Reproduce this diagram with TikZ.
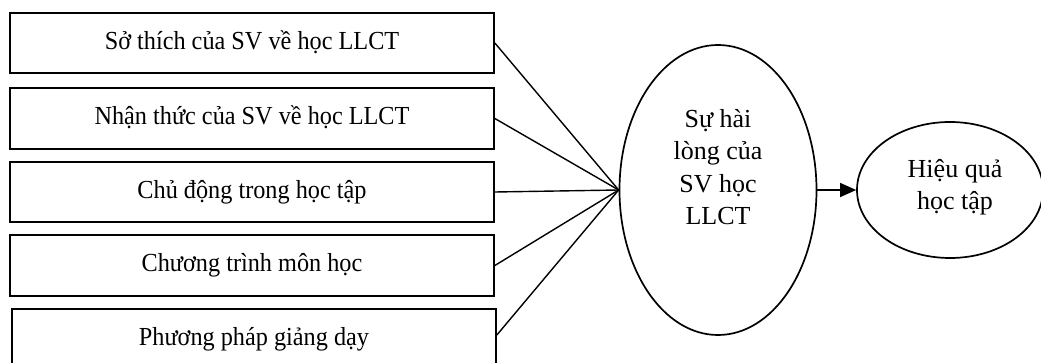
\documentclass[tikz,border=0pt]{standalone}
\usepackage{fontspec}
\setmainfont{Liberation Serif}
\newfontfamily\boxfont[FakeStretch=0.933]{Liberation Serif}
\usetikzlibrary{arrows.meta,shapes.geometric}
\begin{document}
\begin{tikzpicture}[x=1pt,y=-1pt,
  factor/.style={draw, line width=1.7pt, minimum width=484pt, inner sep=0pt,
    text height=19pt, text depth=6pt, font=\boxfont\fontsize{26}{31}\selectfont},
  oval/.style={draw, ellipse, line width=1.7pt, inner sep=0pt},
  label/.style={align=center, inner sep=0pt, font=\fontsize{26}{32.5}\selectfont},
  link/.style={line width=1.4pt}
]
\useasboundingbox (0,0) rectangle (1041,363);
\clip (0,0) rectangle (1041,363);
\node[factor, minimum height=60pt] (b1) at (252,43) {Sở thích của SV về học LLCT};
\node[factor, minimum height=61pt] (b2) at (252,118.5) {Nhận thức của SV về học LLCT};
\node[factor, minimum height=60pt] (b3) at (252,192) {Chủ động trong học tập};
\node[factor, minimum height=61pt] (b4) at (252,265.5) {Chương trình môn học};
\node[factor, minimum height=60pt] (b5) at (254,339) {Phương pháp giảng dạy};
\node[oval, minimum width=197pt, minimum height=290pt] (e1) at (718,190) {};
\node[oval, minimum width=186pt, minimum height=136pt] (e2) at (950,190) {};
\node[label] (t1) at (718,167) {Sự hài\\lòng của\\SV học\\LLCT};
\node[label] (t2) at (955,187) {Hiệu quả\\học tập};
\foreach \b in {b1,b2,b3,b4} \draw[link] (\b.east) -- (e1.west);
\draw[link] (b5.east |- 0,335) coordinate (c5) -- (e1.west);
\draw[link, -{Triangle[length=16pt,width=14pt]}] (e1.east) -- (e2.west);
\end{tikzpicture}
\end{document}
